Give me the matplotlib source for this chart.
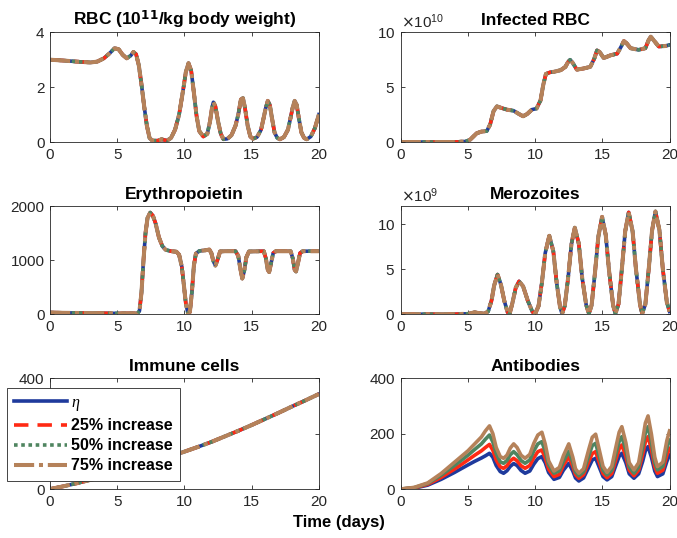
import matplotlib
matplotlib.use("Agg")
import matplotlib.pyplot as plt
import numpy as np

plt.rcParams['font.family'] = ['Liberation Sans', 'DejaVu Sans']
plt.rcParams['mathtext.fontset'] = 'custom'
plt.rcParams['mathtext.it'] = 'Liberation Serif:italic'

# ---- data ----
series_labels = [r'$\eta$', '25% increase', '50% increase', '75% increase']

rbc_pts = [(0, 3.00), (1, 2.97), (2, 2.93), (3, 2.90), (3.5, 2.93), (4, 3.05), (4.4, 3.22),
           (4.8, 3.42), (5.1, 3.38), (5.4, 3.18), (5.7, 3.05), (6.0, 3.15), (6.2, 3.28),
           (6.4, 3.20), (6.6, 2.80), (6.8, 2.10), (7.0, 1.30), (7.2, 0.60), (7.4, 0.15),
           (7.6, 0.05), (8.0, 0.05), (8.3, 0.10), (8.7, 0.05), (9.0, 0.15), (9.3, 0.45),
           (9.6, 1.00), (9.9, 1.90), (10.1, 2.55), (10.3, 2.87), (10.5, 2.60), (10.7, 1.80),
           (10.9, 0.95), (11.1, 0.40), (11.4, 0.20), (11.7, 0.30), (11.9, 0.75), (12.05, 1.25),
           (12.15, 1.45), (12.3, 1.30), (12.5, 0.75), (12.7, 0.30), (12.9, 0.10), (13.2, 0.12),
           (13.5, 0.25), (13.8, 0.60), (14.0, 1.00), (14.2, 1.55), (14.35, 1.60), (14.5, 1.25),
           (14.7, 0.60), (14.9, 0.20), (15.1, 0.12), (15.4, 0.18), (15.7, 0.45), (15.9, 0.90),
           (16.05, 1.25), (16.2, 1.50), (16.35, 1.35), (16.5, 0.90), (16.7, 0.35), (16.9, 0.15),
           (17.1, 0.10), (17.4, 0.18), (17.7, 0.45), (17.9, 0.90), (18.05, 1.25), (18.2, 1.50),
           (18.35, 1.35), (18.5, 0.90), (18.7, 0.35), (18.9, 0.15), (19.1, 0.10), (19.4, 0.20),
           (19.7, 0.50), (20, 1.00)]

# infected RBC in units of 1e10
irbc_pts = [(0, 0), (2, 0), (4, 0), (4.8, 0.05), (5.15, 0.2), (5.4, 0.5), (5.65, 0.8),
            (6.0, 0.95), (6.4, 1.0), (6.65, 1.6), (6.9, 2.8), (7.15, 3.25), (7.5, 3.1),
            (7.9, 2.95), (8.4, 2.85), (8.8, 2.55), (9.1, 2.35), (9.4, 2.55), (9.75, 2.95),
            (10.1, 3.05), (10.4, 3.8), (10.6, 5.2), (10.8, 6.2), (11.1, 6.35), (11.4, 6.4),
            (11.9, 6.55), (12.25, 6.85), (12.45, 7.3), (12.6, 7.5), (12.8, 7.2), (13.1, 6.6),
            (13.6, 6.7), (14.1, 6.85), (14.4, 7.6), (14.6, 8.35), (14.8, 8.2), (15.1, 7.65),
            (15.6, 7.9), (16.1, 8.05), (16.4, 8.7), (16.6, 9.2), (16.8, 9.0), (17.1, 8.55),
            (17.7, 8.4), (18.2, 8.55), (18.45, 9.3), (18.6, 9.6), (18.8, 9.3), (19.2, 8.7),
            (19.7, 8.75), (20, 8.85)]

epo_pts = [(0, 30), (1, 25), (3, 20), (5, 15), (6.5, 15), (6.65, 60), (6.8, 400), (6.95, 1000),
           (7.1, 1500), (7.25, 1780), (7.45, 1880), (7.65, 1820), (7.85, 1680), (8.1, 1420),
           (8.35, 1260), (8.6, 1190), (9.0, 1165), (9.4, 1155), (9.6, 1100), (9.8, 880),
           (9.95, 550), (10.1, 200), (10.25, 25), (10.4, 40), (10.55, 400), (10.7, 900),
           (10.85, 1120), (11.1, 1170), (11.5, 1180), (11.85, 1195), (12.0, 1130), (12.15, 980),
           (12.3, 900), (12.45, 1000), (12.65, 1160), (13.0, 1165), (13.8, 1165), (14.0, 1080),
           (14.15, 850), (14.3, 660), (14.45, 800), (14.6, 1050), (14.8, 1160), (15.9, 1165),
           (16.05, 1040), (16.2, 820), (16.3, 780), (16.45, 950), (16.6, 1130), (16.8, 1165),
           (17.9, 1165), (18.05, 1040), (18.2, 820), (18.3, 790), (18.45, 950), (18.6, 1130),
           (18.8, 1165), (20, 1165)]

# merozoites in units of 1e9
mero_pts = [(0, 0), (4, 0), (5, 0.05), (5.5, 0.2), (5.9, 0.1), (6.2, 0.05), (6.5, 0.3),
            (6.75, 1.5), (6.95, 3.2), (7.2, 4.4), (7.45, 3.3), (7.7, 1.5), (7.95, 0.2),
            (8.1, 0.05), (8.3, 1.2), (8.55, 2.9), (8.8, 3.65), (9.1, 3.1), (9.45, 1.5),
            (9.8, 0.25), (10.0, 0.05), (10.25, 0.9), (10.5, 3.5), (10.75, 6.8), (11.05, 8.7),
            (11.35, 7.0), (11.6, 3.5), (11.85, 0.8), (12.0, 0.05), (12.2, 0.9), (12.45, 4.0),
            (12.7, 7.8), (12.95, 9.6), (13.25, 7.8), (13.5, 4.0), (13.8, 1.0), (14.0, 0.05),
            (14.2, 1.0), (14.45, 4.6), (14.7, 8.6), (14.98, 10.8), (15.25, 8.8), (15.5, 4.8),
            (15.8, 1.0), (15.97, 0.05), (16.2, 1.1), (16.45, 5.0), (16.7, 9.2), (16.96, 11.3),
            (17.25, 9.2), (17.5, 5.0), (17.8, 1.1), (17.96, 0.05), (18.2, 1.1), (18.45, 5.0),
            (18.7, 9.3), (18.95, 11.4), (19.25, 9.3), (19.5, 5.0), (19.8, 1.3), (20, 0.3)]

immune_t = [0, 1, 2, 3, 4, 5, 6, 7, 8, 9, 10, 11, 12, 13, 14, 15, 16, 17, 18, 19, 20]
immune_v = [0, 10, 21, 33, 45, 58, 72, 86, 102, 118, 135, 152, 170, 190, 210, 231, 253,
            275, 298, 320, 343]

ab_t = [0, 1, 2, 3, 4, 5, 5.5, 6.0, 6.3, 6.6, 6.85, 7.1, 7.4, 7.65, 7.9, 8.15, 8.4, 8.65,
        8.95, 9.25, 9.6, 9.9, 10.2, 10.5, 10.75, 11.0, 11.4, 11.8, 12.1, 12.5, 12.8, 13.0,
        13.25, 13.6, 14.0, 14.25, 14.5, 14.8, 15.05, 15.35, 15.7, 16.0, 16.25, 16.45, 16.75,
        17.0, 17.35, 17.7, 18.0, 18.2, 18.4, 18.65, 18.9, 19.1, 19.5, 19.8, 20.0]
ab_eta = [0, 3, 14, 35, 60, 87, 100, 112, 120, 129, 115, 85, 63, 57, 66, 82, 92, 85,
          67, 57, 65, 90, 110, 117, 95, 60, 35, 42, 68, 93, 65, 40,
          29, 40, 80, 105, 111, 75, 45, 33, 45, 85, 118, 129, 95,
          55, 39, 55, 100, 138, 153, 115, 65, 45, 55, 100, 123]
ab_25 = [0, 4, 17, 42, 72, 105, 122, 138, 150, 161, 140, 105, 80, 75, 84, 102, 111, 102,
         84, 75, 85, 113, 135, 141, 112, 72, 45, 53, 85, 117, 82, 52,
         39, 52, 100, 128, 135, 92, 56, 41, 56, 105, 145, 159, 117,
         68, 48, 68, 125, 170, 189, 142, 80, 57, 68, 122, 147]
ab_50 = [0, 5, 20, 50, 85, 122, 143, 163, 180, 195, 170, 128, 98, 93, 103, 124, 135, 124,
         103, 93, 105, 138, 163, 171, 135, 88, 57, 66, 100, 137, 97, 62,
         48, 62, 122, 157, 165, 112, 68, 51, 68, 126, 172, 189, 140,
         80, 57, 80, 150, 203, 225, 168, 96, 69, 82, 148, 177]
ab_75 = [0, 6, 22, 56, 97, 138, 163, 188, 210, 228, 200, 150, 117, 111, 122, 148, 163, 150,
         122, 111, 125, 165, 195, 205, 162, 102, 65, 78, 120, 163, 115, 73,
         57, 73, 145, 187, 198, 135, 82, 60, 82, 150, 205, 225, 167,
         95, 69, 95, 178, 238, 264, 198, 115, 81, 97, 175, 210]

# ---- styles ----
colors = ['#1f3a9c', '#ff2a14', '#4f8560', '#b5825a']
styles = ['-', (0, (4, 2.5)), (0, (1, 1)), (0, (5, 1.2, 1, 1.2))]
widths = [2.6, 2.6, 2.6, 2.9]
TXT = '#262626'


def unzip(pts):
    t, v = zip(*pts)
    return np.array(t), np.array(v)


def style_axes(ax, title, yticks, ylim):
    ax.set_xlim(0, 20)
    ax.set_ylim(*ylim)
    ax.set_xticks([0, 5, 10, 15, 20])
    ax.set_yticks(yticks)
    ax.tick_params(direction='in', top=True, right=True, labelsize=11,
                   colors=TXT, length=3, width=0.6, pad=4)
    for s in ax.spines.values():
        s.set_color(TXT)
        s.set_linewidth(0.6)
    ax.set_title(title, fontsize=12.5, fontweight='bold', pad=5)


def plot_same(ax, t, v, scale=1.0):
    # the four runs overlap in this panel
    for c, ls, lw in zip(colors, styles, widths):
        ax.plot(t, np.asarray(v) * scale, color=c, ls=ls, lw=lw)


fig = plt.figure(figsize=(6.77, 5.38), dpi=100)
lx, rx, w = 0.074, 0.592, 0.397
rows = [(0.736, 0.204), (0.416, 0.201), (0.091, 0.206)]

ax1 = fig.add_axes([lx, rows[0][0], w, rows[0][1]])
t, v = unzip(rbc_pts)
plot_same(ax1, t, v)
style_axes(ax1, 'RBC (10$^{\\mathbf{11}}$/kg body weight)', [0, 2, 4], (0, 4))

ax2 = fig.add_axes([rx, rows[0][0], w, rows[0][1]])
t, v = unzip(irbc_pts)
plot_same(ax2, t, v, 1e10)
style_axes(ax2, 'Infected RBC', [0, 5e10, 10e10], (0, 10e10))

ax3 = fig.add_axes([lx, rows[1][0], w, rows[1][1]])
t, v = unzip(epo_pts)
plot_same(ax3, t, v)
style_axes(ax3, 'Erythropoietin', [0, 1000, 2000], (0, 2000))

ax4 = fig.add_axes([rx, rows[1][0], w, rows[1][1]])
t, v = unzip(mero_pts)
plot_same(ax4, t, v, 1e9)
style_axes(ax4, 'Merozoites', [0, 5e9, 10e9], (0, 12e9))

for ax, mag in ((ax2, 10), (ax4, 9)):
    ax.ticklabel_format(axis='y', style='sci', scilimits=(mag, mag), useMathText=True)
    off = ax.yaxis.get_offset_text()
    off.set_fontsize(11)
    off.set_color(TXT)
    off.set_x(0.0)

ax5 = fig.add_axes([lx, rows[2][0], w, rows[2][1]])
lines = []
for c, ls, lw, lab in zip(colors, styles, widths, series_labels):
    ln, = ax5.plot(immune_t, immune_v, color=c, ls=ls, lw=lw, label=lab)
    lines.append(ln)
style_axes(ax5, 'Immune cells', [0, 200, 400], (0, 400))

ax6 = fig.add_axes([rx, rows[2][0], w, rows[2][1]])
for vals, c in zip([ab_eta, ab_25, ab_50, ab_75], colors):
    ax6.plot(ab_t, vals, color=c, ls='-', lw=2.6)
style_axes(ax6, 'Antibodies', [0, 200, 400], (0, 400))

leg = fig.legend(handles=lines, loc='upper left', bbox_to_anchor=(0.010, 0.279),
                 borderaxespad=0, prop={'weight': 'bold', 'size': 11.5},
                 handlelength=3.3, handletextpad=0.3, labelspacing=0.32,
                 borderpad=0.45, fancybox=False, framealpha=1, edgecolor=TXT)
leg.get_frame().set_linewidth(0.6)

fig.text(0.5, 0.028, 'Time (days)', ha='center', va='center',
         fontsize=12, fontweight='bold')

fig.savefig('out.png', dpi=100)
